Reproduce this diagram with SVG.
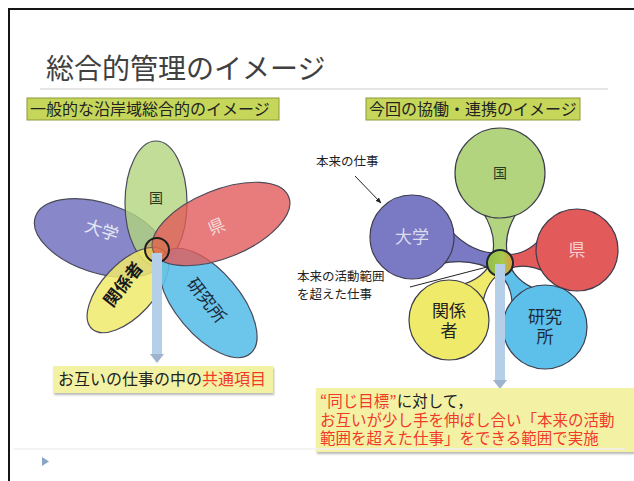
<svg xmlns="http://www.w3.org/2000/svg" width="634" height="481" viewBox="0 0 634 481">
<defs>
<style>
text{font-family:"Noto Sans CJK JP","Noto Sans",sans-serif;}
.lbl{font-size:16px;fill:#222;}
.pet{stroke:#4a4a5a;stroke-width:1.2;}
.cir{stroke:#3c3c4c;stroke-width:1.2;}
.ann{font-size:12.5px;fill:#222;}
.red{fill:#f23a2a;}
.bt{font-size:15.5px;}
</style>
<linearGradient id="cg" x1="0" y1="0" x2="1" y2="0">
<stop offset="0" stop-color="#8fbf48"/>
<stop offset="0.6" stop-color="#a8c850"/>
<stop offset="1" stop-color="#e0983c"/>
</linearGradient>
<marker id="ah" viewBox="0 0 10 10" refX="9" refY="5" markerWidth="6" markerHeight="6" orient="auto">
<path d="M0,1 L10,5 L0,9 Z" fill="#222"/>
</marker>
<filter id="sh" x="-5%" y="-10%" width="115%" height="140%">
<feDropShadow dx="1" dy="2" stdDeviation="1.2" flood-color="#888" flood-opacity="0.6"/>
</filter>
</defs>
<rect x="0" y="0" width="634" height="481" fill="#fff"/>
<rect x="9" y="9" width="640" height="490" fill="#fff" stroke="#151515" stroke-width="2"/>
<g id="title">
<text x="46" y="79" style="font-size:28px;fill:#404040;">総合的管理のイメージ</text>
<line x1="40" y1="89" x2="608" y2="89" stroke="#dcdcdc" stroke-width="1.5"/>
</g>
<g id="heading-left">
<rect x="27" y="98" width="252" height="22" fill="#c5d65a" stroke="#8c9a36" stroke-width="1"/>
<text class="lbl" x="30" y="115">一般的な沿岸域総合的のイメージ</text>
</g>
<g id="heading-right">
<rect x="366" y="98" width="214" height="22" fill="#c5d65a" stroke="#8c9a36" stroke-width="1"/>
<text class="lbl" x="369" y="115">今回の協働・連携のイメージ</text>
</g>
<!-- Left flower -->
<g id="L-daigaku">
<ellipse class="pet" cx="100" cy="238" rx="68" ry="35" transform="rotate(18 100 238)" fill="#7a7ac4" fill-opacity="0.9"/>
<text x="100" y="236" transform="rotate(18 100 236)" text-anchor="middle" style="font-size:17px;fill:#e8e8f4;">大学</text>
</g>
<g id="L-kuni">
<ellipse class="pet" cx="156" cy="203" rx="31" ry="62" fill="#b2d47e" fill-opacity="0.8"/>
<text x="156" y="203" text-anchor="middle" style="font-size:14px;fill:#2a3a20;">国</text>
</g>
<g id="L-kankeisha">
<ellipse class="pet" cx="128" cy="290" rx="53" ry="26" transform="rotate(-47 128 290)" fill="#f0ea6a" fill-opacity="0.85"/>
<text x="128" y="288" transform="rotate(-52 128 288)" text-anchor="middle" style="font-size:17px;fill:#1a1a1a;font-weight:bold;">関係者</text>
</g>
<g id="L-kenkyusho">
<ellipse class="pet" cx="208" cy="303" rx="66" ry="32" transform="rotate(50 208 303)" fill="#5cc0ea" fill-opacity="0.9"/>
<text x="202" y="304" transform="rotate(52 202 304)" text-anchor="middle" style="font-size:17px;fill:#1a2a3a;">研究所</text>
</g>
<g id="L-ken">
<ellipse class="pet" cx="221" cy="224" rx="73" ry="34" transform="rotate(-22 221 224)" fill="#e25a5a" fill-opacity="0.8"/>
<text x="219" y="232" transform="rotate(-22 219 232)" text-anchor="middle" style="font-size:17px;fill:#f4dada;">県</text>
</g>
<g id="L-center">
<circle cx="157" cy="250" r="12" fill="#d87a3a" fill-opacity="0.35" stroke="#1e1e1e" stroke-width="2"/>
</g>
<!-- Right flower -->
<g id="R-necks">
<path d="M490 263 Q500 238 482 211 L518 211 Q500 238 510 263 Z" fill="#b2d47e" class="cir"/>
<path d="M502.8 253.4 Q472.2 254.8 449.7 229.3 L439.5 263.9 Q472.2 256.8 497.2 272.6 Z" fill="#7a7ac4" class="cir"/>
<path d="M501.7 272.9 Q521.7 259.3 547.5 273.2 L541.5 237.8 Q521.7 259.3 498.3 253.1 Z" fill="#e25a5a" class="cir"/>
<path d="M506.7 269 Q485.3 279.4 482.2 306.9 L458.4 285.5 Q485.3 279.4 493.3 257 Z" fill="#f0ea6a" class="cir"/>
<path d="M507.4 257.8 Q512.7 281 538.5 290 L512.3 308.4 Q512.7 281 492.6 268.2 Z" fill="#5cc0ea" class="cir"/>
</g>
<g id="R-kuni">
<circle class="cir" cx="500" cy="173" r="45" fill="#b2d47e"/>
<text x="500" y="178" text-anchor="middle" style="font-size:14px;fill:#2a3a20;">国</text>
</g>
<g id="R-daigaku">
<circle class="cir" cx="412" cy="237" r="42" fill="#7a7ac4"/>
<text x="412" y="243" text-anchor="middle" style="font-size:17px;fill:#dcdcf0;">大学</text>
</g>
<g id="R-ken">
<circle class="cir" cx="577" cy="250" r="41" fill="#e25a5a"/>
<text x="577" y="256" text-anchor="middle" style="font-size:17px;fill:#f4d0d0;">県</text>
</g>
<g id="R-kankeisha">
<circle class="cir" cx="449" cy="320" r="40" fill="#f0ea6a"/>
<text x="449" y="317" text-anchor="middle" style="font-size:17px;fill:#222;">関係</text>
<text x="449" y="337" text-anchor="middle" style="font-size:17px;fill:#222;">者</text>
</g>
<g id="R-kenkyusho">
<circle class="cir" cx="545" cy="327" r="42" fill="#5cc0ea"/>
<text x="545" y="323" text-anchor="middle" style="font-size:17px;fill:#1e2a3a;">研究</text>
<text x="545" y="343" text-anchor="middle" style="font-size:17px;fill:#1e2a3a;">所</text>
</g>
<g id="R-center">
<circle cx="500" cy="263" r="13" fill="url(#cg)" stroke="#1e2430" stroke-width="2"/>
</g>
<!-- connectors -->
<g id="connectors">
<line x1="157" y1="253" x2="157" y2="354" stroke="#b6cfe8" stroke-width="10"/>
<path d="M150 354 L164 354 L157 363 Z" fill="#9fb4cc"/>
<line x1="500" y1="264" x2="500" y2="380" stroke="#b6cfe8" stroke-width="10"/>
<path d="M493 380 L507 380 L500 389 Z" fill="#9fb4cc"/>
<line x1="355" y1="176" x2="381" y2="203" stroke="#222" stroke-width="1" marker-end="url(#ah)"/>
<line x1="410" y1="287" x2="487" y2="267" stroke="#222" stroke-width="1"/>
</g>
<g id="annotations">
<text class="ann" x="316" y="166">本来の仕事</text>
<text class="ann" x="297" y="281">本来の活動範囲</text>
<text class="ann" x="297" y="299">を超えた仕事</text>
</g>
<g id="box-left">
<rect x="53" y="366" width="220" height="27" fill="#f3f2a4" filter="url(#sh)"/>
<text x="58" y="385" style="font-size:16px;fill:#222;">お互いの仕事の中の<tspan class="red">共通項目</tspan></text>
</g>
<g id="box-right">
<rect x="316" y="388" width="318" height="64" fill="#f3f2a4" filter="url(#sh)"/>
<text class="bt" x="320" y="407" style="fill:#222;"><tspan class="red">“同じ目標”</tspan>に対して，</text>
<text class="red bt" x="320" y="425.5">お互いが少し手を伸ばし合い「本来の活動</text>
<text class="red bt" x="320" y="444">範囲を超えた仕事」をできる範囲で実施</text>
</g>
<g id="footer">
<line x1="14" y1="449" x2="625" y2="449" stroke="#efefef" stroke-width="1.5"/>
<path d="M42 457 L49 461.5 L42 466 Z" fill="#8aa6c6"/>
</g>
</svg>
